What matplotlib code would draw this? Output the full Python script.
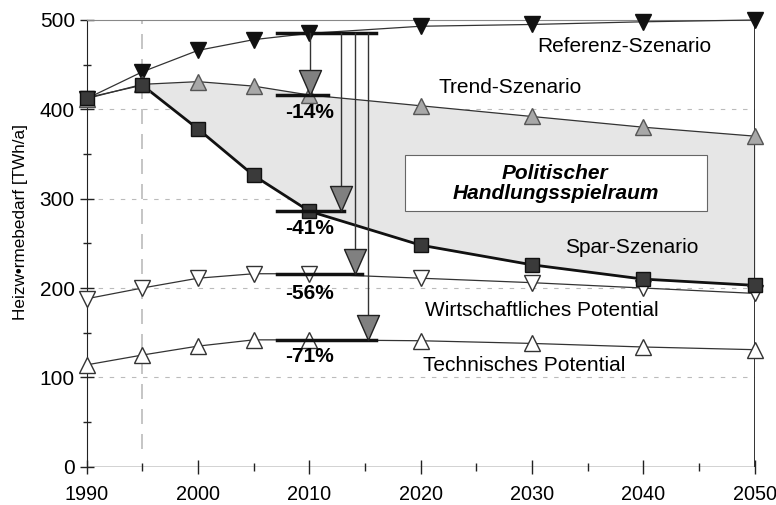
import numpy as np
import matplotlib.pyplot as plt
from matplotlib.path import Path

years = [1990, 1995, 2000, 2005, 2010, 2020, 2030, 2040, 2050]
referenz = [412, 442, 466, 478, 485, 493, 495, 498, 500]
trend = [412, 428, 431, 426, 416, 404, 392, 380, 370]
spar = [413, 427, 378, 326, 286, 248, 226, 210, 203]
wirtschaftlich = [188, 200, 211, 216, 216, 211, 206, 200, 194]
technisch = [114, 125, 135, 142, 142, 141, 138, 134, 131]

# reduction brackets at 2010: target level, line end, arrow x, label
ref_2010 = 485
targets = [416, 286, 216, 142]
bar_ends = [2011.7, 2013.1, 2014.7, 2016.0]
arrow_x = [2010.1, 2012.8, 2014.1, 2015.3]
pct_labels = ["-14%", "-41%", "-56%", "-71%"]
pct_y = [397, 267, 194, 123]

plt.rcParams['font.family'] = ['Liberation Sans', 'DejaVu Sans']

fig = plt.figure(figsize=(7.76, 5.05), dpi=100)
ax = fig.add_axes([0.1117, 0.0758, 0.8608, 0.8846])
ax.set_xlim(1990, 2050)
ax.set_ylim(0, 500)

# grid + 1995 marker line
for yv in [100, 200, 300, 400]:
    ax.axhline(yv, color='#bbbbbb', lw=0.8, ls=(0, (4, 6)), zorder=0)
ax.plot([1995, 1995], [20, 500], color='#bbbbbb', lw=1.2, ls=(0, (9, 6)), zorder=0)

# shaded room between trend and spar
ax.fill_between(years[1:], spar[1:], trend[1:], color='#e6e6e6', zorder=1)
ax.plot([2050, 2050], [0, 500], color='#222222', lw=1.3, zorder=2)

lc = '#333333'
ax.plot(years, referenz, color=lc, lw=0.9, marker='v', ms=11, mfc='#111111', mec='#111111', zorder=4, clip_on=False)
ax.plot(years, trend, color=lc, lw=0.9, marker='^', ms=11, mfc='#a8a8a8', mec='#555555', zorder=4, clip_on=False)
ax.plot(years[:2], spar[:2], color=lc, lw=0.9, zorder=3)
ax.plot(years[1:], spar[1:], color='#111111', lw=2.0, zorder=3)
ax.plot(years, spar, ls='none', marker='s', ms=10, mfc='#3a3a3a', mec='#111111', zorder=5, clip_on=False)
ax.plot(years, wirtschaftlich, color=lc, lw=0.9, marker='v', ms=11, mfc='white', mec='#333333', zorder=4, clip_on=False)
ax.plot(years, technisch, color=lc, lw=0.9, marker='^', ms=11, mfc='white', mec='#333333', zorder=4, clip_on=False)

# brackets and arrows
ax.plot([2007.1, 2016.0], [ref_2010, ref_2010], color='#111111', lw=2.5, zorder=6)
tip = Path([(0, 0), (-0.44, 1.0), (0.44, 1.0), (0, 0)])
for t, xe, xa, lab, ly in zip(targets, bar_ends, arrow_x, pct_labels, pct_y):
    ax.plot([2007.1, xe], [t, t], color='#111111', lw=2.5, zorder=6)
    ax.plot([xa, xa], [ref_2010, t + 20], color='#333333', lw=1.0, zorder=6)
    ax.plot([xa], [t], marker=tip, ms=36, mfc='#808080', mec='#222222', mew=1.0, ls='none', zorder=7)
    ax.text(2010.0, ly, lab, ha='center', va='center', fontsize=15, fontweight='bold', zorder=8)

# series labels
fs = 15
ax.text(2030.5, 470, "Referenz-Szenario", fontsize=fs, va='center')
ax.text(2021.6, 425, "Trend-Szenario", fontsize=fs, va='center')
ax.text(2033.0, 245, "Spar-Szenario", fontsize=fs, va='center')
ax.text(2020.4, 175, "Wirtschaftliches Potential", fontsize=fs, va='center')
ax.text(2020.2, 113, "Technisches Potential", fontsize=fs, va='center')

ax.add_patch(plt.Rectangle((2018.6, 286.6), 27.1, 62.1, facecolor='white', edgecolor='#666666', lw=0.8, zorder=3))
ax.text(2032.1, 317, "Politischer\nHandlungsspielraum", ha='center', va='center', fontsize=15,
        fontweight='bold', fontstyle='italic', linespacing=1.1, zorder=4)

# axes styling
for s in ['right', 'bottom']:
    ax.spines[s].set_visible(False)
ax.spines['left'].set_color('#222222')
ax.spines['top'].set_color('#888888')
ax.axhline(0, color='#222222', lw=1.0, zorder=2)
ax.set_xticks([1990, 2000, 2010, 2020, 2030, 2040, 2050])
ax.set_xticks(np.arange(1995, 2050, 10), minor=True)
ax.set_yticks([0, 100, 200, 300, 400, 500])
ax.set_yticks(np.arange(50, 500, 100), minor=True)
ax.tick_params(axis='both', which='major', direction='inout', length=10, width=1.0, labelsize=15, color='#222222')
ax.tick_params(axis='both', which='minor', direction='inout', length=6, width=1.0, color='#222222')
ax.tick_params(axis='x', pad=8, labelsize=14.3)
ax.set_ylabel("Heizw•rmebedarf [TWh/a]", fontsize=12.3)
ax.yaxis.set_label_coords(-0.088, 0.548)

fig.savefig('out.png', dpi=100)
